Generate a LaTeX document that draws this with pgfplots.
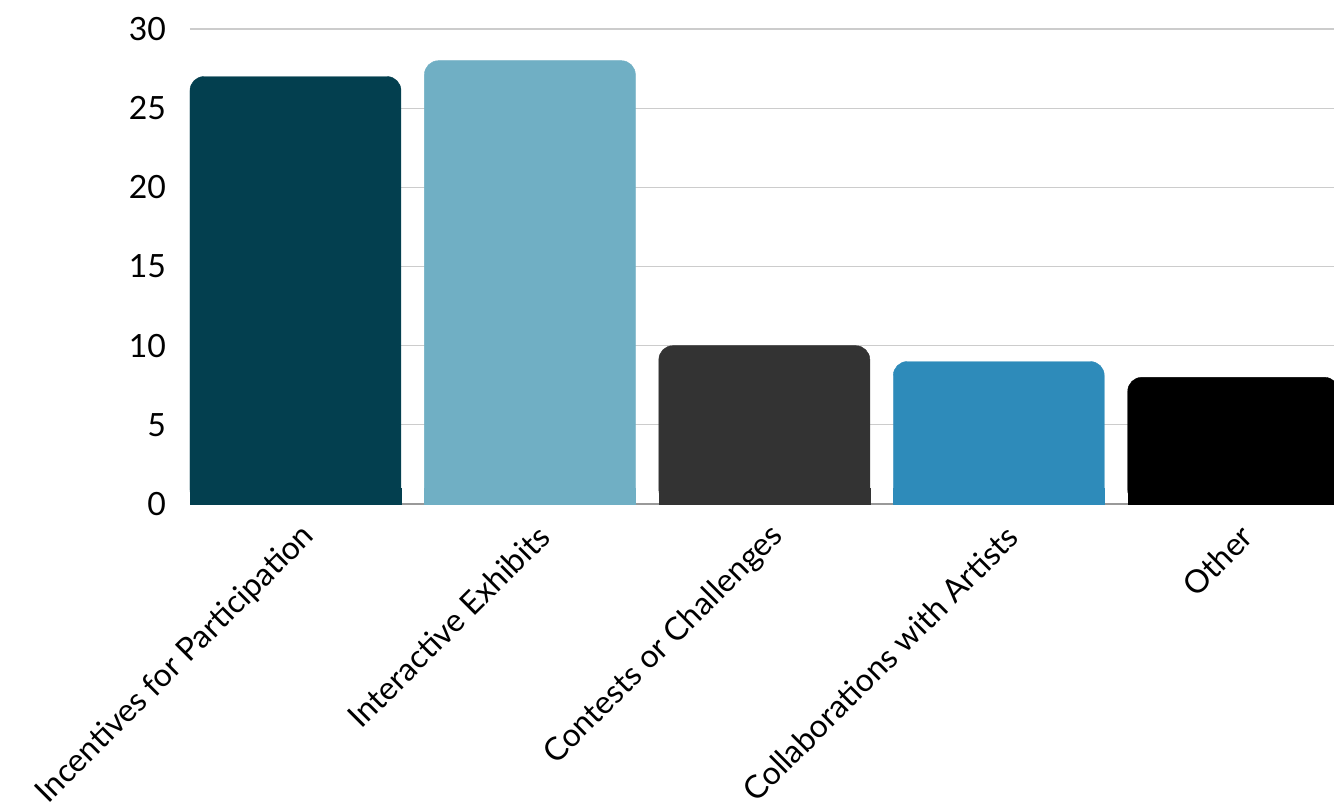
\documentclass[border=0pt]{standalone}
\usepackage{fontspec}
\setmainfont{Lato}
\usepackage{pgfplots}
\pgfplotsset{compat=1.18}
\definecolor{c1}{HTML}{033F4F}
\definecolor{c2}{HTML}{70AFC4}
\definecolor{c3}{HTML}{333333}
\definecolor{c4}{HTML}{2E8BBA}
\definecolor{c5}{HTML}{000000}
\definecolor{gridc}{HTML}{CCCCCC}
\begin{document}
\begin{tikzpicture}
\begin{axis}[
  name=ax,
  scale only axis,
  width=572bp, height=237.5bp,
  xmin=-0.45, xmax=4.43,
  ymin=0, ymax=30,
  ytick={0,5,...,30},
  xtick={0,1,2,3,4},
  xticklabels={Incentives for Participation,Interactive Exhibits,Contests or Challenges,Collaborations with Artists,Other},
  major tick length=0pt,
  axis lines*=left,
  y axis line style={draw=none},
  x axis line style={draw=gray!80, line width=0.6bp},
  ymajorgrids,
  grid style={draw=gridc, line width=0.6bp},
  /pgf/number format/assume math mode=true,
  tick label style={font=\fontsize{16bp}{18bp}\selectfont, text=black},
  yticklabel style={anchor=east, xshift=-8.5bp},
  xticklabel style={inner sep=0pt, xshift=7bp, yshift=-13.5bp, rotate=45, anchor=east},
  ybar, bar width=0.9, /pgf/bar shift=0pt,
  clip=true,
]
\addplot[fill=c1, draw=c1, line width=0.2bp, rounded corners=7bp] coordinates {(0,27)};
\addplot[fill=c1, draw=c1, line width=0.2bp] coordinates {(0,1)};
\addplot[fill=c2, draw=c2, line width=0.2bp, rounded corners=7bp] coordinates {(1,28)};
\addplot[fill=c2, draw=c2, line width=0.2bp] coordinates {(1,1)};
\addplot[fill=c3, draw=c3, line width=0.2bp, rounded corners=7bp] coordinates {(2,10)};
\addplot[fill=c3, draw=c3, line width=0.2bp] coordinates {(2,1)};
\addplot[fill=c4, draw=c4, line width=0.2bp, rounded corners=7bp] coordinates {(3,9)};
\addplot[fill=c4, draw=c4, line width=0.2bp] coordinates {(3,1)};
\addplot[fill=c5, draw=c5, line width=0.2bp, rounded corners=7bp] coordinates {(4,8)};
\addplot[fill=c5, draw=c5, line width=0.2bp] coordinates {(4,1)};
\end{axis}
\pgfresetboundingbox
\path ([shift={(-95bp,-151.5bp)}]ax.south west) rectangle ([shift={(0bp,14.5bp)}]ax.north east);
\end{tikzpicture}
\end{document}
